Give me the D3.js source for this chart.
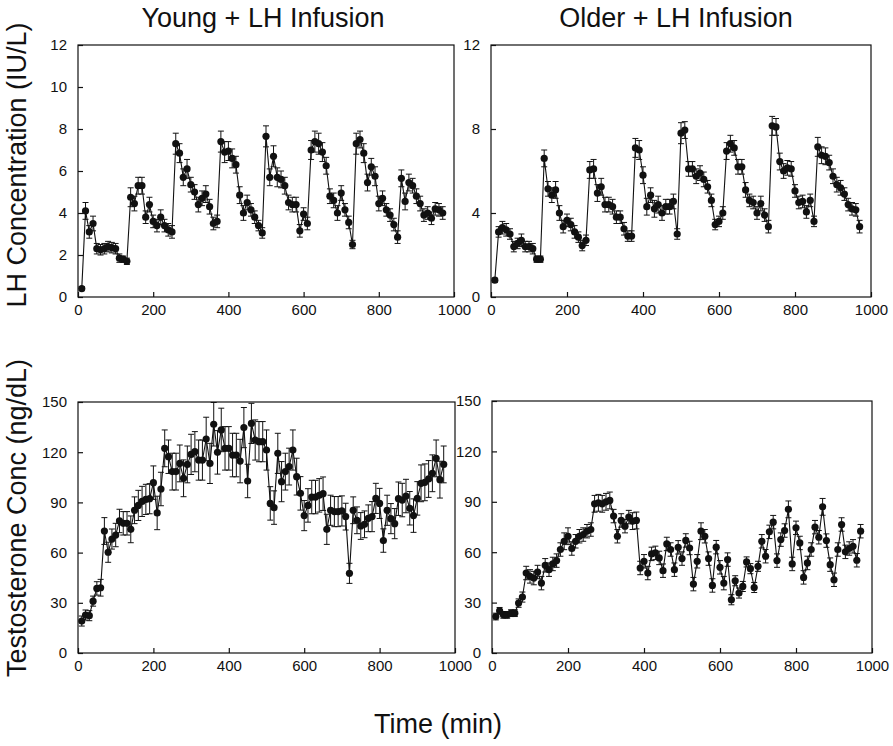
<!DOCTYPE html>
<html>
<head>
<meta charset="utf-8">
<script src="https://cdn.jsdelivr.net/npm/d3@7"></script>
<style>
  body { margin: 0; background: #fff; }
  svg text { font-family: "Liberation Sans", Arial, Helvetica, sans-serif; fill: #111; }
</style>
</head>
<body>
<div id="chart"></div>
<script>
// sampling times (min)
const times = [10,20,30,40,50,60,70,80,90,100,110,120,130,140,150,160,170,180,190,200,
  210,220,230,240,250,260,270,280,290,300,310,320,330,340,350,360,370,380,390,400,
  410,420,430,440,450,460,470,480,490,500,510,520,530,540,550,560,570,580,590,600,
  610,620,630,640,650,660,670,680,690,700,710,720,730,740,750,760,770,780,790,800,
  810,820,830,840,850,860,870,880,890,900,910,920,930,940,950,960,970];

const xTicks = [0, 200, 400, 600, 800, 1000];
const lhTicksYoung = [0, 2, 4, 6, 8, 10, 12];
const lhTicksOlder = [0, 4, 8, 12];
const tTicks = [0, 30, 60, 90, 120, 150];

// LH (IU/L), young men
const youngLH = [0.4,4.1,3.1,3.5,2.3,2.25,2.3,2.4,2.35,2.3,1.85,1.8,1.7,
  4.75,4.45,5.3,5.3,3.8,4.4,3.6,3.4,3.8,3.4,3.2,3.1,
  7.3,6.85,5.7,6.1,5.35,5.0,4.4,4.7,4.9,4.3,3.5,3.6,
  7.4,6.9,6.95,6.6,6.3,4.85,4.0,4.5,4.15,3.8,3.4,3.05,
  7.65,5.7,6.7,5.7,5.6,5.3,4.5,4.4,4.4,3.15,3.95,3.5,
  7.0,7.4,7.3,6.9,6.25,4.8,4.6,4.0,4.95,4.15,3.55,2.5,
  7.3,7.5,6.85,5.45,6.2,5.75,4.45,4.7,4.15,3.9,3.45,2.85,
  5.65,4.55,5.45,5.3,4.8,4.45,3.9,4.0,3.75,4.2,4.15,4.0];
const youngLHErr = [0.1,0.4,0.3,0.35,0.25,0.25,0.25,0.25,0.25,0.25,0.2,0.15,0.15,
  0.45,0.35,0.4,0.4,0.3,0.35,0.3,0.3,0.35,0.3,0.3,0.3,
  0.5,0.45,0.4,0.45,0.35,0.35,0.35,0.35,0.4,0.35,0.3,0.3,
  0.5,0.5,0.45,0.45,0.4,0.4,0.35,0.35,0.3,0.3,0.25,0.25,
  0.5,0.4,0.5,0.45,0.4,0.4,0.35,0.35,0.35,0.3,0.3,0.3,
  0.45,0.5,0.5,0.45,0.4,0.35,0.35,0.35,0.35,0.3,0.3,0.2,
  0.5,0.4,0.45,0.4,0.4,0.45,0.35,0.35,0.3,0.3,0.3,0.3,
  0.4,0.4,0.4,0.35,0.35,0.35,0.3,0.3,0.3,0.3,0.3,0.3];

// LH (IU/L), older men
const olderLH = [0.8,3.1,3.3,3.2,3.0,2.4,2.55,2.7,2.4,2.4,2.3,1.8,1.8,
  6.6,5.15,4.85,5.1,4.0,3.35,3.65,3.45,3.1,2.85,2.45,2.7,
  6.05,6.1,4.95,5.25,4.4,4.4,4.3,3.8,3.8,3.25,2.9,2.9,
  7.1,7.0,5.8,4.3,4.85,4.2,4.4,4.0,4.3,4.3,4.55,3.0,
  7.8,7.95,6.1,6.1,5.75,5.9,5.6,5.25,4.6,3.45,3.6,4.0,
  6.95,7.3,7.1,6.2,6.2,5.1,4.6,4.5,4.0,4.45,3.9,3.35,
  8.15,8.1,6.45,6.0,6.15,6.1,5.05,4.5,4.55,4.05,4.6,3.6,
  7.15,6.75,6.7,6.4,5.75,5.35,5.2,4.9,4.4,4.2,4.15,3.35];
const olderLHErr = [0.1,0.25,0.3,0.3,0.25,0.25,0.25,0.3,0.25,0.25,0.25,0.15,0.15,
  0.4,0.35,0.35,0.4,0.35,0.3,0.3,0.3,0.3,0.25,0.25,0.25,
  0.4,0.45,0.4,0.4,0.35,0.35,0.35,0.3,0.3,0.3,0.25,0.25,
  0.45,0.45,0.4,0.4,0.35,0.4,0.4,0.35,0.35,0.35,0.35,0.25,
  0.5,0.4,0.35,0.35,0.35,0.35,0.35,0.3,0.3,0.25,0.25,0.3,
  0.4,0.4,0.35,0.35,0.35,0.35,0.3,0.3,0.3,0.35,0.3,0.3,
  0.45,0.4,0.4,0.35,0.35,0.35,0.3,0.3,0.3,0.3,0.3,0.25,
  0.45,0.4,0.4,0.35,0.35,0.35,0.35,0.3,0.3,0.3,0.3,0.3];

// testosterone (ng/dL), young men
const youngT = [19.1,22.7,22.3,31,38.6,39,72.9,60.2,68.1,70.5,78.9,77.5,77.5,
  73.9,85.3,88.2,90.6,91.8,92.2,101.8,83.7,98,122.3,117.3,108.4,
  108.4,113.3,104.4,112.7,118.7,120.3,115.3,115.3,127.9,113.3,136.7,119.9,
  133.3,122.3,122.3,118.3,118.3,114.7,134.7,102.8,137.2,127.3,126.3,126.3,
  121.3,89.4,86.9,119.3,102.4,108.4,111.4,121.3,105.4,95.4,82.1,88.2,
  93.2,93.2,94.2,95.2,73.9,85.3,84.5,84.5,84.9,81.5,47.6,85.3,
  79.3,75.9,76.9,80.5,81.5,92.4,89.4,67.2,85.3,80.3,77.3,92.2,
  91.4,93.8,86.5,82.1,92.4,101.4,102,104,107.4,116.3,103.6,112.7];
const youngTErr = [3,3,3,3,4,5,8,6,6,7,7,7,7,
  8,8,9,9,9,9,10,10,10,11,10,11,
  11,11,11,11,12,12,12,12,13,12,13,13,
  13,13,13,13,13,13,12,10,12,12,12,12,
  12,10,10,12,12,11,11,12,11,10,9,10,
  10,10,10,10,9,9,9,9,9,8,6,8,
  8,8,8,8,9,9,9,7,9,9,9,10,
  10,10,10,10,10,11,11,11,11,11,11,11];

// testosterone (ng/dL), older men
const olderT = [21.7,25.1,22.7,22.7,23.7,23.7,29.7,33.3,47.6,45.6,44.6,48.2,41.6,
  52.2,49.6,53,55,61.6,66.5,69.5,62.2,66.5,69.5,70.5,72.5,
  73.5,88.8,89.4,88.8,90,90.8,81.5,69.5,78.9,75.5,80.9,78.5,
  78.9,50.6,54.6,47.6,59,59.6,56.6,49,64.9,61.6,49.6,62.9,
  56.2,67,62.5,41,54.6,72.5,69.5,56.2,40.2,63,51,41.6,
  55.6,31.7,43,35.7,39.6,54.2,50.2,39,51.6,66.5,57.6,72.1,
  77.9,55,67.5,72.9,85.5,53,74.5,65.5,45,53.6,61.6,74.9,
  68.9,87,66.9,52.6,43.6,61.6,76.5,60.2,62.2,63.5,55.2,72.5];
const olderTErr = [2,2,2,2,2,2,2.5,3,4,4,4,4,4,
  4,4,4,4,4,5,5,4,4,4,4,4,
  4,5,5,5,5,5,4,4,4,4,4,5,
  5,4,4,4,4,4,4,4,4,4,4,4,
  4,4,4,4,4,5,4,4,4,4,4,4,
  4,3,3,3,3,3,3,3,3,4,4,4,
  4,4,4,4,5,4,4,4,4,4,4,4,
  4,5,4,4,4,4,4,4,4,4,4,4];

const width = 893, height = 746;
const svg = d3.select("#chart").append("svg")
    .attr("width", width)
    .attr("height", height);

function drawPanel(p){
    let x = d3.scaleLinear().domain([0, 1000]).range([p.left, p.right]);
    let y = d3.scaleLinear().domain([0, p.yMax]).range([p.bottom, p.top]);
    let g = svg.append("g");

    //frame
    g.append("rect")
        .attr("x", p.left).attr("y", p.top)
        .attr("width", p.right - p.left).attr("height", p.bottom - p.top)
        .attr("fill", "none").attr("stroke", "#111").attr("stroke-width", 1.2);

    let xAxis = g.append("g")
        .attr("transform", "translate(0," + p.bottom + ")")
        .call(d3.axisBottom(x).tickValues(xTicks).tickFormat(d3.format("d"))
            .tickSizeInner(-5).tickSizeOuter(0).tickPadding(7));
    let yAxis = g.append("g")
        .attr("transform", "translate(" + p.left + ",0)")
        .call(d3.axisLeft(y).tickValues(p.yTicks).tickSizeInner(-5).tickSizeOuter(0).tickPadding(11));
    [xAxis, yAxis].forEach(function(a){
        a.select(".domain").remove();
        a.selectAll("line").attr("stroke", "#111").attr("stroke-width", 1.2);
        a.selectAll("text").attr("font-size", 15).attr("fill", "#111")
            .style("font-family", "'Liberation Sans', Arial, sans-serif");
    });

    let pts = times.map(function(t, i){ return {t: t, v: p.values[i], e: p.errors[i]}; });

    //error bars
    let bars = g.append("g").attr("stroke", "#111").attr("stroke-width", 1);
    pts.forEach(function(d){
        let cx = x(d.t), y1 = y(d.v + d.e), y0 = y(d.v - d.e);
        bars.append("line").attr("x1", cx).attr("x2", cx).attr("y1", y1).attr("y2", y0);
        bars.append("line").attr("x1", cx - 3).attr("x2", cx + 3).attr("y1", y1).attr("y2", y1);
        bars.append("line").attr("x1", cx - 3).attr("x2", cx + 3).attr("y1", y0).attr("y2", y0);
    });

    let line = d3.line()
        .x(function(d){ return x(d.t); })
        .y(function(d){ return y(d.v); });
    g.append("path")
        .datum(pts)
        .attr("d", line)
        .attr("fill", "none")
        .attr("stroke", "#111")
        .attr("stroke-width", 1.1);

    g.selectAll("circle.pt")
        .data(pts)
        .enter()
        .append("circle")
        .attr("class", "pt")
        .attr("cx", function(d){ return x(d.t); })
        .attr("cy", function(d){ return y(d.v); })
        .attr("r", 3.6)
        .attr("fill", "#111");
}

drawPanel({left: 78, right: 454, top: 45, bottom: 297, yMax: 12, yTicks: lhTicksYoung, values: youngLH, errors: youngLHErr});
drawPanel({left: 491, right: 871, top: 45, bottom: 297, yMax: 12, yTicks: lhTicksOlder, values: olderLH, errors: olderLHErr});
drawPanel({left: 78, right: 455, top: 402, bottom: 653, yMax: 150, yTicks: tTicks, values: youngT, errors: youngTErr});
drawPanel({left: 492, right: 872, top: 401, bottom: 653, yMax: 150, yTicks: tTicks, values: olderT, errors: olderTErr});

//titles
svg.append("text").text("Young + LH Infusion")
    .attr("x", 263).attr("y", 27).attr("text-anchor", "middle").attr("font-size", 27);
svg.append("text").text("Older + LH Infusion")
    .attr("x", 676).attr("y", 27).attr("text-anchor", "middle").attr("font-size", 27);
svg.append("text").text("LH Concentration (IU/L)")
    .attr("transform", "translate(26,165) rotate(-90)").attr("text-anchor", "middle").attr("font-size", 27);
svg.append("text").text("Testosterone Conc (ng/dL)")
    .attr("transform", "translate(26,518) rotate(-90)").attr("text-anchor", "middle").attr("font-size", 27);
svg.append("text").text("Time (min)")
    .attr("x", 438).attr("y", 733).attr("text-anchor", "middle").attr("font-size", 27);
</script>
</body>
</html>
